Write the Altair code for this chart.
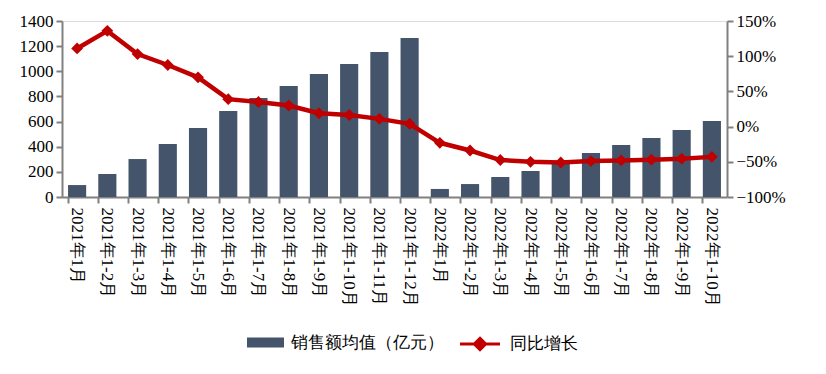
import altair as alt
import pandas as pd

months = ["2021年1月", "2021年1-2月", "2021年1-3月", "2021年1-4月", "2021年1-5月", "2021年1-6月",
          "2021年1-7月", "2021年1-8月", "2021年1-9月", "2021年1-10月", "2021年1-11月", "2021年1-12月",
          "2022年1月", "2022年1-2月", "2022年1-3月", "2022年1-4月", "2022年1-5月", "2022年1-6月",
          "2022年1-7月", "2022年1-8月", "2022年1-9月", "2022年1-10月"]
sales = [95, 183, 302, 422, 549, 684, 788, 883, 979, 1058, 1153, 1265,
         64, 103, 159, 207, 272, 350, 414, 469, 533, 605]
yoy = [1.11, 1.36, 1.03, 0.875, 0.70, 0.39, 0.35, 0.30, 0.19, 0.165, 0.11, 0.04,
       -0.23, -0.34, -0.475, -0.50, -0.51, -0.49, -0.48, -0.47, -0.455, -0.43]

df = pd.DataFrame({"month": months, "sales": sales, "yoy": yoy})

FONT = "Liberation Serif"
GRAY = "#808080"
FS = 17

x = alt.X("month:N", sort=months, title=None,
          scale=alt.Scale(paddingInner=0.4, paddingOuter=0.2),
          axis=alt.Axis(labelAngle=90, bandPosition=0, labelFont=FONT,
                        labelFontSize=FS, labelColor="#000", domainColor=GRAY, domainWidth=2,
                        tickColor=GRAY, tickWidth=2, tickSize=6, labelPadding=4))

bars = alt.Chart(df).transform_calculate(s="'销售额均值（亿元）'").mark_bar(color="#44546A").encode(
    x=x,
    y=alt.Y("sales:Q", title=None,
            scale=alt.Scale(domain=[0, 1400]),
            axis=alt.Axis(values=list(range(0, 1401, 200)), format="d", grid=False, labelFont=FONT,
                          labelFontSize=FS, labelColor="#000", domainColor=GRAY, domainWidth=2,
                          tickColor=GRAY, tickWidth=2, tickSize=6, labelPadding=3)),
    color=alt.Color("s:N", scale=alt.Scale(domain=["销售额均值（亿元）"], range=["#44546A"]),
                    legend=alt.Legend(title=None, orient="none", legendX=191, legendY=309,
                                      symbolType="M-1.5,-0.4H1.5V0.4H-1.5Z", symbolSize=608,
                                      labelFont=FONT, labelFontSize=FS, labelColor="#000",
                                      symbolStrokeWidth=0, padding=0, labelOffset=13))
)

line = alt.Chart(df).transform_calculate(s="'同比增长'").mark_line(
    strokeWidth=4.5,
    point=alt.OverlayMarkDef(shape="diamond", size=140, filled=True, color="#C00000")
).encode(
    x=alt.X("month:N", sort=months),
    y=alt.Y("yoy:Q", title=None,
            scale=alt.Scale(domain=[-1, 1.5]),
            axis=alt.Axis(orient="right", values=[-1, -0.5, 0, 0.5, 1, 1.5], format=".0%",
                          grid=False, labelFont=FONT, labelFontSize=FS, labelColor="#000",
                          domainColor=GRAY, domainWidth=2, tickColor=GRAY, tickWidth=2,
                          tickSize=6, labelPadding=3)),
    color=alt.Color("s:N", scale=alt.Scale(domain=["同比增长"], range=["#C00000"]),
                    legend=alt.Legend(title=None, orient="none", legendX=404, legendY=309,
                                      symbolType="M-1.6,0H1.6M0,-0.45L0.45,0L0,0.45L-0.45,0Z",
                                      symbolSize=625, symbolStrokeWidth=3,
                                      symbolFillColor="#C00000", symbolStrokeColor="#C00000",
                                      labelFont=FONT, labelFontSize=FS, labelColor="#000",
                                      padding=0, labelOffset=16))
)

chart = alt.layer(bars, line).resolve_scale(y="independent", color="independent").properties(
    width=665, height=176,
    autosize=alt.AutoSizeParams(type="none"),
    padding={"left": 54, "top": 13, "right": 85, "bottom": 160},
    background="white"
).configure_view(stroke=None).configure(font=FONT)

chart.save("out.html", embed_options={"renderer": "svg", "actions": False})
